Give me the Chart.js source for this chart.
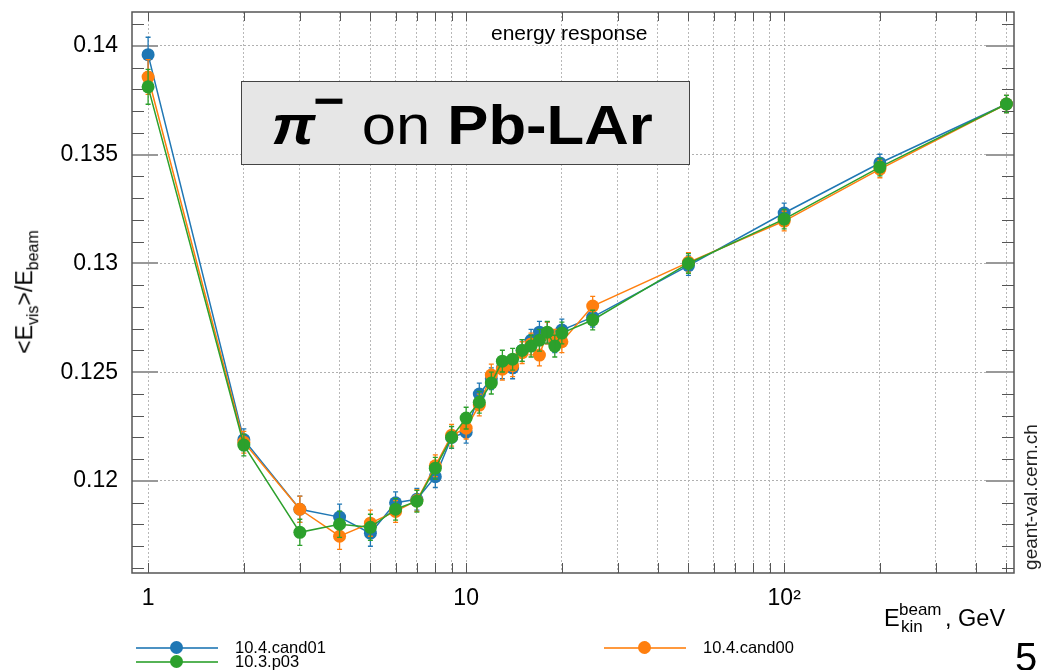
<!DOCTYPE html>
<html>
<head>
<meta charset="utf-8">
<script src="https://cdn.jsdelivr.net/npm/chart.js@4"></script>
<style>
  body { margin: 0; background: #fff; }
  #wrap { position: relative; width: 1041px; height: 670px; overflow: hidden; font-family: "Liberation Sans", Arial, sans-serif; color: #000; }
  #chart { position: absolute; left: 0; top: 0; }
  .txt { position: absolute; white-space: nowrap; line-height: 1; }
  .box { position: absolute; left: 241px; top: 81px; width: 449px; height: 84px; box-sizing: border-box;
         background: #e6e6e6; border: 1.5px solid #444; text-align: center; font-size: 55px; line-height: 82px; white-space: nowrap; }
  .box .in { display: inline-block; position: relative; top: 2px; left: -3px; transform: scaleX(1.12); }
  .leg { position: absolute; height: 14px; }
  .leg .ln { position: absolute; left: 0; top: 6px; width: 82px; height: 2px; }
  .leg .dot { position: absolute; left: 34px; top: 0; width: 13px; height: 13px; border-radius: 50%; }
  .leg span { position: absolute; left: 99px; top: -3px; font-size: 16.5px; }
</style>
</head>
<body>
<div id="wrap">
  <canvas id="chart" width="1041" height="670"></canvas>

  <div class="txt" style="left:491px; top:22px; font-size:21px;">energy response</div>

  <div class="box"><span class="in"><b><i>π</i></b><b style="font-size:48px; position:relative; top:-27px; margin-left:-2px;">−</b> on <b>Pb-LAr</b></span></div>

  <div class="txt" style="left:27px; top:292px; font-size:23px; transform: translate(-50%,-50%) rotate(-90deg);">&lt;E<sub style="font-size:16px;">vis</sub>&gt;/E<sub style="font-size:16px;">beam</sub></div>

  <div class="txt" style="left:884px; top:607px; font-size:23.5px;">E</div>
  <div class="txt" style="left:899px; top:601px; font-size:17px;">beam</div>
  <div class="txt" style="left:901px; top:618px; font-size:17px;">kin</div>
  <div class="txt" style="left:945px; top:607px; font-size:23.5px;">, GeV</div>

  <div class="txt" style="left:1030px; top:497px; font-size:19px; color:#222; transform: translate(-50%,-50%) rotate(-90deg);">geant-val.cern.ch</div>

  <div class="txt" style="left:1015px; top:637px; font-size:40px;">5</div>

  <div id="legend"></div>
</div>

<script>
// beam kinetic energy, GeV
const energies = [1, 2, 3, 4, 5, 6, 7, 8, 9, 10, 11, 12, 13, 14, 15, 16, 17, 18, 19, 20, 25, 50, 100, 200, 500];

// <Evis>/Ebeam
const cand01 = [0.1396, 0.1219, 0.1187, 0.11834, 0.1176, 0.1190, 0.11916, 0.1202, 0.1220, 0.12224,
                0.1240, 0.1247, 0.1252, 0.1252, 0.1260, 0.12647, 0.12684, 0.1268, 0.1264, 0.12694,
                0.12753, 0.1299, 0.13232, 0.13462, 0.13733];
const cand00 = [0.13857, 0.12178, 0.1187, 0.11746, 0.11806, 0.1186, 0.1191, 0.1207, 0.1221, 0.12243,
                0.12349, 0.12487, 0.12514, 0.1253, 0.1259, 0.1263, 0.12579, 0.1268, 0.12647, 0.1264,
                0.12804, 0.13005, 0.13195, 0.13434, 0.13733];
const p03    = [0.13812, 0.12165, 0.11764, 0.11801, 0.11787, 0.1187, 0.11907, 0.12059, 0.12201, 0.12289,
                0.12362, 0.1245, 0.12551, 0.1256, 0.1260, 0.1262, 0.12647, 0.12684, 0.1262, 0.1268,
                0.1274, 0.1300, 0.13204, 0.13443, 0.13733];

// error bars (half length)
const err01 = [0.0008, 0.0005, 0.0006, 0.0006, 0.0006, 0.0005, 0.0005, 0.0005, 0.0005, 0.0005,
               0.0005, 0.0005, 0.0005, 0.0005, 0.0005, 0.0005, 0.0005, 0.0005, 0.0005, 0.0005,
               0.00045, 0.00045, 0.00045, 0.0004, 0.0004];
const err00 = [0.0008, 0.0005, 0.0006, 0.0006, 0.0006, 0.0005, 0.0005, 0.0005, 0.0005, 0.0005,
               0.0005, 0.0005, 0.0005, 0.0005, 0.0005, 0.0005, 0.0005, 0.0005, 0.0005, 0.0005,
               0.00045, 0.00045, 0.00045, 0.0004, 0.0004];
const err03 = [0.0008, 0.0005, 0.0006, 0.0006, 0.0006, 0.0005, 0.0005, 0.0005, 0.0005, 0.0005,
               0.0005, 0.0005, 0.0005, 0.0005, 0.0005, 0.0005, 0.0005, 0.0005, 0.0005, 0.0005,
               0.00045, 0.00045, 0.00045, 0.0004, 0.0004];

const seriesNames = ['10.4.cand01', '10.4.cand00', '10.3.p03'];
const seriesColors = ['#1f77b4', '#ff7f0e', '#2ca02c'];

const xTicks = [1, 2, 3, 4, 5, 6, 7, 8, 9, 10, 20, 30, 40, 50, 60, 70, 80, 90, 100, 200, 300, 400, 500];
const xTickLabels = { 1: '1', 10: '10', 100: '10²' };
const yTicks = [0.12, 0.125, 0.13, 0.135, 0.14];
const yTickLabels = ['0.12', '0.125', '0.13', '0.135', '0.14'];
const yMinorTicks = [0.116, 0.117, 0.118, 0.119, 0.121, 0.122, 0.123, 0.124, 0.126, 0.127, 0.128, 0.129,
                     0.131, 0.132, 0.133, 0.134, 0.136, 0.137, 0.138, 0.139, 0.141];

const FONT = '"Liberation Sans", Arial, sans-serif';

function makeSet(i, values, errors, order) {
  return {
    label: seriesNames[i],
    data: energies.map((e, k) => ({ x: e, y: values[k] })),
    errors: errors,
    borderColor: seriesColors[i],
    backgroundColor: seriesColors[i],
    borderWidth: 1.5,
    pointRadius: 6.5,
    pointBorderWidth: 0,
    pointHoverRadius: 6.5,
    tension: 0,
    order: order
  };
}

// error bars drawn right after each dataset
const errorBars = {
  id: 'errorBars',
  afterDatasetDraw(chart, args) {
    const ds = chart.data.datasets[args.index];
    const xs = chart.scales.x, ys = chart.scales.y, ctx = chart.ctx;
    ctx.save();
    ctx.strokeStyle = ds.borderColor;
    ctx.lineWidth = 1.3;
    ds.data.forEach((p, i) => {
      const px = xs.getPixelForValue(p.x);
      const top = ys.getPixelForValue(p.y + ds.errors[i]);
      const bot = ys.getPixelForValue(p.y - ds.errors[i]);
      ctx.beginPath();
      ctx.moveTo(px, top); ctx.lineTo(px, bot);
      ctx.moveTo(px - 2.5, top); ctx.lineTo(px + 2.5, top);
      ctx.moveTo(px - 2.5, bot); ctx.lineTo(px + 2.5, bot);
      ctx.stroke();
    });
    ctx.restore();
  }
};

// ROOT-like frame with inward ticks on all sides
const frame = {
  id: 'frame',
  beforeDatasetsDraw(chart) {
    const { ctx, chartArea: a, scales: { x, y } } = chart;
    ctx.save();
    const line = (x1, y1, x2, y2) => { ctx.beginPath(); ctx.moveTo(x1, y1); ctx.lineTo(x2, y2); ctx.stroke(); };
    ctx.strokeStyle = '#555';
    ctx.lineWidth = 1;
    xTicks.forEach(v => {
      const px = Math.round(x.getPixelForValue(v)) + 0.5;
      line(px, a.bottom, px, a.bottom - 10);
      line(px, a.top, px, a.top + 9);
    });
    yMinorTicks.forEach(v => {
      const py = Math.round(y.getPixelForValue(v)) + 0.5;
      line(a.left, py, a.left + 12, py);
      line(a.right, py, a.right - 12, py);
    });
    ctx.strokeStyle = '#999';
    ctx.lineWidth = 2;
    yTicks.forEach(v => {
      const py = Math.round(y.getPixelForValue(v));
      line(a.left, py, a.left + 26, py);
      line(a.right, py, a.right - 28, py);
    });
    ctx.strokeStyle = '#555';
    ctx.lineWidth = 1.5;
    ctx.strokeRect(a.left, a.top, a.right - a.left, a.bottom - a.top);
    ctx.restore();
  }
};

new Chart(document.getElementById('chart'), {
  type: 'line',
  data: {
    datasets: [
      makeSet(0, cand01, err01, 3),
      makeSet(1, cand00, err00, 2),
      makeSet(2, p03, err03, 1)
    ]
  },
  options: {
    responsive: false,
    animation: false,
    layout: { padding: { top: 12, right: 27, left: 0, bottom: 0 } },
    plugins: { legend: { display: false }, tooltip: { enabled: false } },
    scales: {
      x: {
        type: 'logarithmic',
        min: 0.89,
        max: 528,
        afterBuildTicks: s => { s.ticks = xTicks.map(v => ({ value: v })); },
        afterFit: s => { s.height = 97; s.paddingLeft = 0; s.paddingRight = 0; },
        ticks: {
          autoSkip: false, maxRotation: 0, padding: 12,
          color: '#000', font: { family: FONT, size: 23 },
          callback: v => xTickLabels[v] || ''
        },
        grid: { color: '#b8b8b8', lineWidth: 1, drawTicks: false },
        border: { display: false, dash: [2, 2] }
      },
      y: {
        min: 0.11577,
        max: 0.14156,
        afterBuildTicks: s => { s.ticks = yTicks.map(v => ({ value: v })); },
        afterFit: s => { s.width = 132; s.paddingTop = 0; s.paddingBottom = 0; },
        ticks: {
          padding: 14, color: '#000', font: { family: FONT, size: 23 },
          callback: v => yTickLabels[yTicks.indexOf(v)]
        },
        grid: { color: '#b0b0b0', lineWidth: 1, drawTicks: false },
        border: { display: false, dash: [2, 2] }
      }
    }
  },
  plugins: [frame, errorBars]
});

// legend laid out like the original (two columns)
const legendPos = [[136, 641], [604, 641], [136, 655]];
document.getElementById('legend').innerHTML = seriesNames.map((name, i) =>
  `<div class="leg" style="left:${legendPos[i][0]}px; top:${legendPos[i][1]}px;">
     <div class="ln" style="background:${seriesColors[i]}; opacity:0.8"></div>
     <div class="dot" style="background:${seriesColors[i]}"></div>
     <span>${name}</span>
   </div>`).join('');
</script>
</body>
</html>
